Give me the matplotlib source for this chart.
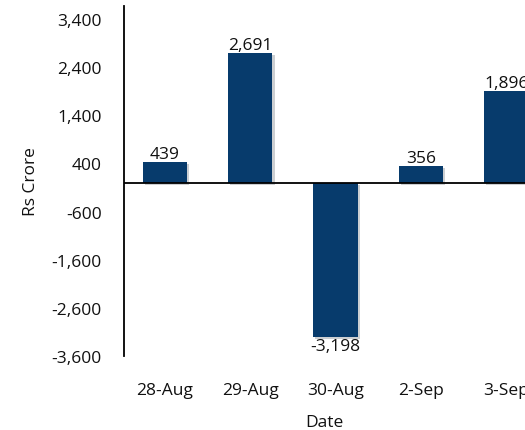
import numpy as np
import matplotlib
matplotlib.use('Agg')
import matplotlib.pyplot as plt
import matplotlib.patheffects as pe

plt.rcParams['font.family'] = ['Open Sans', 'DejaVu Sans']

dates = ['28-Aug', '29-Aug', '30-Aug', '2-Sep', '3-Sep']
values = [439, 2691, -3198, 356, 1896]
y_ticks = [-3600, -2600, -1600, -600, 400, 1400, 2400, 3400]

bar_color = '#073b6c'
fs = 12.5

fig = plt.figure(figsize=(5.25, 4.31), dpi=100)
# axes runs off the right edge of the figure like the reference
ax = fig.add_axes([124/525, 1 - 357/431, 1 - 124/525, 350/431])

x = np.arange(len(dates))
bars = ax.bar(x, values, width=0.52, color=bar_color, zorder=2)
for b in bars:
    b.set_path_effects([pe.SimplePatchShadow(offset=(1.5, -1.5), alpha=0.2), pe.Normal()])

ax.axhline(0, color='black', lw=1.3, zorder=3)

for xi, v in zip(x, values):
    lab = f'{v:,}'
    if v >= 0:
        ax.annotate(lab, (xi, v), xytext=(0, 0), textcoords='offset points',
                    ha='center', va='bottom', fontsize=fs, color='#111111')
    else:
        ax.annotate(lab, (xi, v), xytext=(0, -1), textcoords='offset points',
                    ha='center', va='top', fontsize=fs, color='#111111')

ax.set_xlim(-0.48, 4.22)
ax.set_ylim(-3600, 3670)
ax.set_yticks(y_ticks)
ax.set_yticklabels([f'{t:,}' for t in y_ticks])
ax.set_xticks(x)
ax.set_xticklabels(dates)
ax.tick_params(axis='both', length=0, labelsize=fs, colors='#111111')
ax.tick_params(axis='y', pad=16)
ax.tick_params(axis='x', pad=19)

for s in ['top', 'right', 'bottom']:
    ax.spines[s].set_visible(False)
ax.spines['left'].set_linewidth(1.3)

ax.set_ylabel('Rs Crore', fontsize=fs, color='#111111')
ax.set_xlabel('Date', fontsize=fs, color='#111111')
ax.yaxis.set_label_coords(-0.213, 0.5)
ax.xaxis.set_label_coords(0.5, -0.165)

fig.savefig('out.png', dpi=100)
